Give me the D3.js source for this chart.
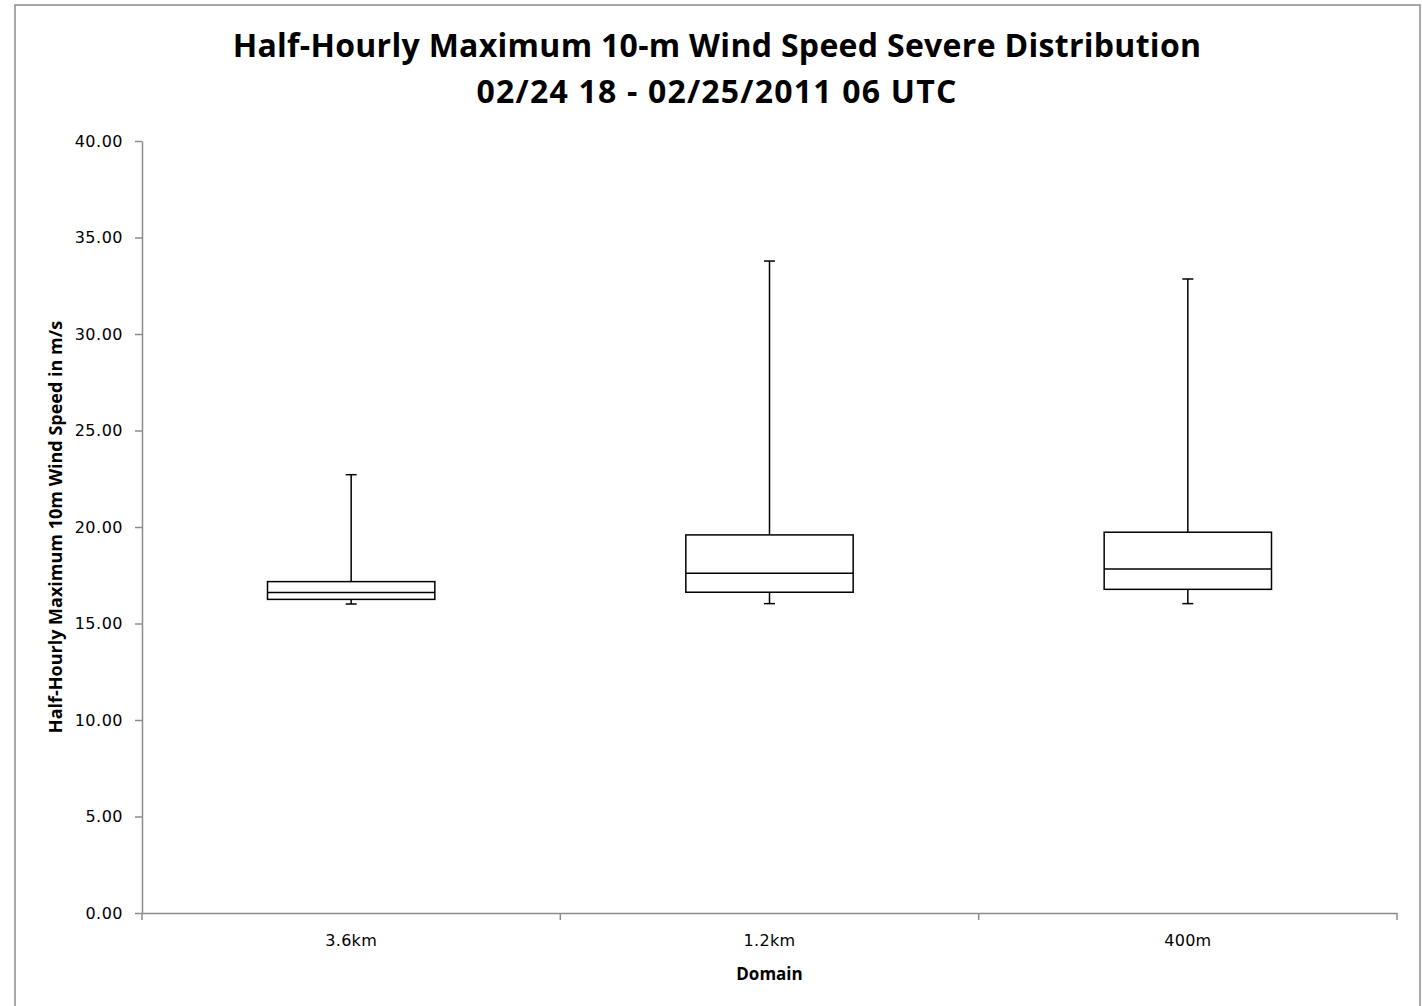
<!DOCTYPE html>
<html>
<meta charset="utf-8">
<script src="https://d3js.org/d3.v7.min.js"></script>
<style>
body { margin: 0; background: #fff; }
.tick text { font-family: "DejaVu Sans", Verdana, sans-serif; }
</style>
<body>
<div id="my_dataviz"></div>
<script>
// data
var domains = ["3.6km", "1.2km", "400m"];
var mins    = [16.01, 16.03, 16.03];
var q1s     = [16.25, 16.62, 16.77];
var medians = [16.60, 17.60, 17.82];
var q3s     = [17.17, 19.59, 19.73];
var maxs    = [22.71, 33.78, 32.85];
var yTicks  = [0, 5, 10, 15, 20, 25, 30, 35, 40];

var W = 1422, H = 1006;
var margin = {top: 141, right: 25, bottom: 93, left: 142};
var width = W - margin.left - margin.right,
    height = H - margin.top - margin.bottom;

var svg = d3.select("#my_dataviz")
  .append("svg")
    .attr("width", W)
    .attr("height", H);

// chart border
svg.append("rect")
  .attr("x", 15).attr("y", 5)
  .attr("width", 1405).attr("height", 1010)
  .attr("fill", "none").attr("stroke", "#8c8c8c").attr("stroke-width", 1.5);

// title
var title = svg.append("text")
  .attr("text-anchor", "middle")
  .attr("font-family", "Open Sans, sans-serif")
  .attr("font-weight", "bold")
  .attr("font-size", "32px")
  .attr("fill", "#000");
title.append("tspan").attr("x", 717).attr("y", 57).attr("letter-spacing", "0.3px")
  .text("Half-Hourly Maximum 10-m Wind Speed Severe Distribution");
title.append("tspan").attr("x", 717).attr("y", 103).attr("letter-spacing", "1.2px")
  .text("02/24 18 - 02/25/2011 06 UTC");

var g = svg.append("g")
  .attr("transform", "translate(" + margin.left + "," + margin.top + ")");

var y = d3.scaleLinear().domain([0, 40]).range([height, 0]);
var x = d3.scaleBand().domain(domains).range([0, width]).padding(0);

// Y axis
var yAxis = g.append("g")
  .call(d3.axisLeft(y).tickValues(yTicks).tickFormat(d3.format(".2f")).tickSize(7).tickSizeOuter(0).tickPadding(12));
yAxis.selectAll(".tick text").attr("font-size", "16px").attr("letter-spacing", "0.5px").attr("fill", "#000");
yAxis.selectAll("line, path").attr("stroke", "#8c8c8c").attr("stroke-width", 1.5);

// X axis
var xAxis = g.append("g")
  .attr("transform", "translate(0," + height + ")")
  .call(d3.axisBottom(x).tickSize(0).tickPadding(22).tickSizeOuter(0));
xAxis.selectAll(".tick text").attr("font-size", "16px").attr("letter-spacing", "0.3px").attr("fill", "#000");
xAxis.select("path").attr("stroke", "#8c8c8c").attr("stroke-width", 1.5);
// category boundary ticks
var bounds = domains.map(function(d) { return x(d); }).concat([x.range()[1]]);
xAxis.selectAll(".bound")
  .data(bounds)
  .enter().append("line")
    .attr("x1", function(d) { return d; })
    .attr("x2", function(d) { return d; })
    .attr("y1", 0).attr("y2", 7)
    .attr("stroke", "#8c8c8c").attr("stroke-width", 1.5);

// axis titles
svg.append("text")
  .attr("x", margin.left + width / 2).attr("y", 980)
  .attr("text-anchor", "middle")
  .attr("font-family", "Open Sans, sans-serif")
  .attr("font-weight", "bold").attr("font-size", "17px")
  .text("Domain");
svg.append("text")
  .attr("transform", "translate(62," + 527 + ") rotate(-90)")
  .attr("text-anchor", "middle")
  .attr("font-family", "Open Sans, sans-serif")
  .attr("font-weight", "bold").attr("font-size", "18px")
  .text("Half-Hourly  Maximum  10m  Wind Speed  in  m/s");

// boxes
var boxW = x.bandwidth() * 0.4;
var capW = 11;
var boxes = g.selectAll(".box")
  .data(domains)
  .enter().append("g")
    .attr("class", "box")
    .attr("transform", function(d) { return "translate(" + (x(d) + x.bandwidth() / 2) + ",0)"; });

boxes.append("line")
  .attr("x1", 0).attr("x2", 0)
  .attr("y1", function(d, i) { return y(maxs[i]); })
  .attr("y2", function(d, i) { return y(q3s[i]); })
  .attr("stroke", "#000").attr("stroke-width", 1.5);
boxes.append("line")
  .attr("x1", 0).attr("x2", 0)
  .attr("y1", function(d, i) { return y(q1s[i]); })
  .attr("y2", function(d, i) { return y(mins[i]); })
  .attr("stroke", "#000").attr("stroke-width", 1.5);
boxes.append("line")
  .attr("x1", -capW / 2).attr("x2", capW / 2)
  .attr("y1", function(d, i) { return y(maxs[i]); })
  .attr("y2", function(d, i) { return y(maxs[i]); })
  .attr("stroke", "#000").attr("stroke-width", 1.5);
boxes.append("line")
  .attr("x1", -capW / 2).attr("x2", capW / 2)
  .attr("y1", function(d, i) { return y(mins[i]); })
  .attr("y2", function(d, i) { return y(mins[i]); })
  .attr("stroke", "#000").attr("stroke-width", 1.5);
boxes.append("rect")
  .attr("x", -boxW / 2).attr("width", boxW)
  .attr("y", function(d, i) { return y(q3s[i]); })
  .attr("height", function(d, i) { return y(q1s[i]) - y(q3s[i]); })
  .attr("fill", "#fff").attr("stroke", "#000").attr("stroke-width", 1.5);
boxes.append("line")
  .attr("x1", -boxW / 2).attr("x2", boxW / 2)
  .attr("y1", function(d, i) { return y(medians[i]); })
  .attr("y2", function(d, i) { return y(medians[i]); })
  .attr("stroke", "#000").attr("stroke-width", 1.5);
</script>
</body>
</html>
